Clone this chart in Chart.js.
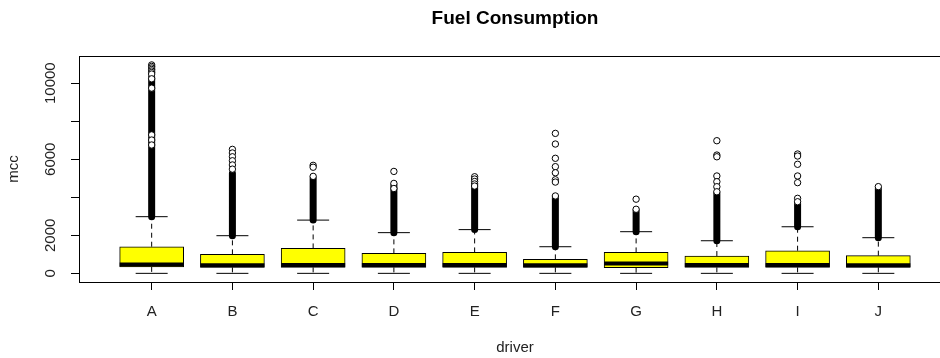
<!DOCTYPE html>
<html><head><meta charset="utf-8">
<script src="https://cdn.jsdelivr.net/npm/chart.js@4.4.1/dist/chart.umd.min.js"></script>
<style>
html,body{margin:0;padding:0;background:#fff;overflow:hidden;width:940px;height:358px}
#c{display:block;width:987px;height:358px}
</style>
</head><body><canvas id="c" width="987" height="358"></canvas>
<script>
const drivers = ['A','B','C','D','E','F','G','H','I','J'];
const q1 = [340, 315, 315, 315, 315, 315, 300, 315, 315, 315];
const medians = [460, 420, 435, 435, 435, 430, 520, 440, 440, 430];
const q3 = [1400, 1000, 1310, 1050, 1100, 735, 1100, 910, 1190, 930];
const whiskerLow = [0, 0, 0, 0, 0, 0, 0, 0, 0, 0];
const whiskerHigh = [2980, 1980, 2800, 2140, 2300, 1400, 2190, 1715, 2450, 1875];
// dense runs of overlapping outliers (drawn as a solid column)
const denseLow = [2980, 1980, 2800, 2140, 2300, 1400, 2190, 1715, 2450, 1875];
const denseHigh = [10330, 5270, 5000, 4650, 4500, 3980, 3300, 4200, 3700, 4450];
// individually visible outliers
const outA = [10960, 10880, 10800, 10720, 10640, 10560, 10480, 10230, 9740, 7280, 7010, 6750];
const outB = [6520, 6330, 6130, 5920, 5700, 5480];
const outC = [5680, 5580, 5100];
const outD = [5360, 4730, 4460];
const outE = [5080, 4960, 4830, 4700, 4590];
const outF = [7360, 6800, 6050, 5610, 5290, 4920, 4800, 4070];
const outG = [3900, 3370];
const outH = [6975, 6220, 6130, 5120, 4820, 4555, 4290];
const outI = [6275, 6170, 5735, 5120, 4770, 3945, 3766];
const outJ = [4560];
const outliers = [outA, outB, outC, outD, outE, outF, outG, outH, outI, outJ];
const yTicks = [0, 2000, 4000, 6000, 8000, 10000];
const yTickLabels = ['0', '2000', '', '6000', '', '10000'];

const FONT = '"Liberation Sans", Arial, Helvetica, sans-serif';
Chart.defaults.font.family = FONT;
Chart.defaults.color = '#000';

const boxData = drivers.map((d, i) => ({x: i + 1, y: [q1[i], q3[i]]}));
const whiskerData = [];
drivers.forEach((d, i) => {
  whiskerData.push({x: i + 1, y: q3[i]}, {x: i + 1, y: whiskerHigh[i]}, {x: i + 1, y: null});
  whiskerData.push({x: i + 1, y: q1[i]}, {x: i + 1, y: whiskerLow[i]}, {x: i + 1, y: null});
});
const capData = [];
drivers.forEach((d, i) => {
  capData.push({x: i + 1, y: whiskerHigh[i]}, {x: i + 1, y: whiskerLow[i]});
});
const medianData = drivers.map((d, i) => ({x: i + 1, y: medians[i]}));
const denseData = [];
drivers.forEach((d, i) => {
  denseData.push({x: i + 1, y: denseLow[i]}, {x: i + 1, y: denseHigh[i]}, {x: i + 1, y: null});
});
const outlierData = [];
outliers.forEach((arr, i) => arr.forEach(v => outlierData.push({x: i + 1, y: v})));

const framePlugin = {
  id: 'frame',
  afterDraw(chart) {
    const {ctx, chartArea: a} = chart;
    ctx.save();
    ctx.strokeStyle = '#000';
    ctx.lineWidth = 1;
    ctx.strokeRect(Math.round(a.left) + 0.5, Math.round(a.top) + 0.5,
      Math.round(a.right - a.left), Math.round(a.bottom - a.top));
    ctx.restore();
  }
};

new Chart(document.getElementById('c'), {
  type: 'scatter',
  data: {
    datasets: [
      {type: 'bar', data: boxData, backgroundColor: '#ffff00', borderColor: '#000',
       borderWidth: 1, borderSkipped: false, barThickness: 64, grouped: false, order: 6},
      {type: 'line', data: whiskerData, borderColor: '#000', borderWidth: 1,
       borderDash: [5, 4], pointRadius: 0, spanGaps: false, order: 7},
      {type: 'scatter', data: capData, pointStyle: 'line', pointRadius: 16,
       pointHoverRadius: 16, borderColor: '#000', borderWidth: 1, order: 5},
      {type: 'scatter', data: medianData, pointStyle: 'line', pointRadius: 32,
       pointHoverRadius: 32, borderColor: '#000', borderWidth: 4, order: 4},
      {type: 'line', data: denseData, borderColor: '#000', borderWidth: 7,
       borderCapStyle: 'round', pointRadius: 0, spanGaps: false, order: 3},
      {type: 'scatter', data: outlierData, pointStyle: 'circle', pointRadius: 3.2,
       pointHoverRadius: 3.2, borderColor: '#000', backgroundColor: '#fff',
       borderWidth: 1, order: 2}
    ]
  },
  options: {
    responsive: false,
    animation: false,
    events: [],
    devicePixelRatio: 1,
    layout: {padding: {top: 0, left: 0, right: 9, bottom: 0}},
    plugins: {
      legend: {display: false},
      tooltip: {enabled: false},
      title: {display: true, fullSize: false, text: 'Fuel Consumption', color: '#000',
        font: {family: FONT, size: 19, weight: 'bold'}, padding: {top: 7, bottom: 26}}
    },
    scales: {
      x: {
        type: 'linear', min: 0.1, max: 10.9, offset: false,
        afterBuildTicks: s => { s.ticks = drivers.map((d, i) => ({value: i + 1})); },
        afterFit: s => { s.height = 76; s.paddingLeft = 0; s.paddingRight = 0; },
        ticks: {callback: v => drivers[v - 1] || '', autoSkip: false, maxRotation: 0,
          padding: 13, color: '#222', font: {size: 15}},
        grid: {drawOnChartArea: false, drawTicks: true, tickLength: 8, color: '#000', offset: false},
        border: {display: false},
        title: {display: true, text: 'driver', color: '#222', font: {size: 15},
          padding: {top: 0, bottom: 1}}
      },
      y: {
        type: 'linear', min: -455, max: 11440, beginAtZero: false,
        afterBuildTicks: s => { s.ticks = yTicks.map(v => ({value: v})); },
        afterFit: s => { s.width = 79; s.paddingLeft = 0; s.paddingRight = 0; s.paddingTop = 0; s.paddingBottom = 0; },
        ticks: {callback: (v, i) => yTickLabels[i], autoSkip: false, minRotation: 90,
          maxRotation: 90, crossAlign: 'center', padding: -1, color: '#222', font: {size: 15}},
        grid: {drawOnChartArea: false, drawTicks: true, tickLength: 8, color: '#000'},
        border: {display: false},
        title: {display: true, text: 'mcc', color: '#222', font: {size: 15},
          padding: {top: 5, bottom: 0}}
      }
    }
  },
  plugins: [framePlugin]
});
</script>
</body></html>
